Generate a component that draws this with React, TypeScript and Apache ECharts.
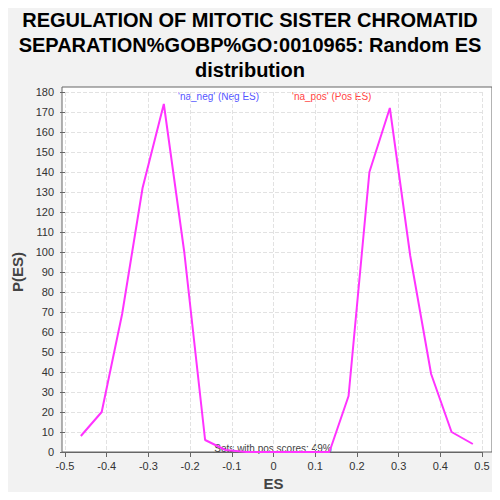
import * as echarts from 'echarts';
import React, { useEffect, useRef } from 'react';

const esValues = [
  -0.462, -0.412, -0.363, -0.314, -0.263, -0.214, -0.164, -0.115, -0.065, -0.015, 0.035, 0.085,
  0.134, 0.18, 0.23, 0.279, 0.328, 0.378, 0.427, 0.478,
];
const density = [8, 20, 69, 132, 174, 100, 6, 1, 0, 0, 0, 0, 0, 28, 140, 172, 98, 39, 10, 4];
const yTicks = [0, 180, 10];
const xTicks = [-0.5, 0.5, 0.1];

const App: React.FC = () => {
  const chartRef = useRef<HTMLDivElement>(null);

  useEffect(() => {
    if (!chartRef.current) return;
    const chart = echarts.init(chartRef.current, null, { renderer: 'svg' });
    chart.setOption({
      animation: false,
      backgroundColor: '#f2f2f2',
      title: {
        text: 'REGULATION OF MITOTIC SISTER CHROMATID\nSEPARATION%GOBP%GO:0010965: Random ES\ndistribution',
        left: 'center',
        top: 2,
        textStyle: { fontSize: 20, fontWeight: 'bold', color: '#000', lineHeight: 25, fontFamily: 'Liberation Sans' },
      },
      grid: { left: 65, right: 18, top: 92, bottom: 48 },
      xAxis: {
        type: 'value',
        min: xTicks[0],
        max: xTicks[1],
        interval: xTicks[2],
        name: 'ES',
        nameLocation: 'middle',
        nameGap: 24,
        nameTextStyle: { fontSize: 15, fontWeight: 'bold', color: '#444', fontFamily: 'Liberation Sans' },
        axisLine: { onZero: false, lineStyle: { color: '#666' } },
        axisTick: { lineStyle: { color: '#666' } },
        axisLabel: { color: '#333', fontSize: 11, fontFamily: 'Liberation Sans', formatter: (v: number) => String(Math.round(v * 10) / 10) },
        splitLine: { show: true, lineStyle: { type: 'dashed', color: '#e2e2e2' } },
      },
      yAxis: {
        type: 'value',
        min: yTicks[0],
        max: yTicks[1],
        interval: yTicks[2],
        name: 'P(ES)',
        nameLocation: 'middle',
        nameGap: 38,
        nameTextStyle: { fontSize: 15, fontWeight: 'bold', color: '#444', fontFamily: 'Liberation Sans' },
        axisLine: { show: false, onZero: false },
        axisTick: { show: true, lineStyle: { color: '#666' } },
        axisLabel: { color: '#333', fontSize: 11, fontFamily: 'Liberation Sans', margin: 11 },
        splitLine: { show: true, lineStyle: { type: 'dashed', color: '#e2e2e2' } },
      },
      graphic: [
        { type: 'rect', z: -10, shape: { x: 62, y: 87, width: 430, height: 365 }, style: { fill: '#fff', stroke: '#666', lineWidth: 1 } },
        { type: 'text', x: 178, y: 91, style: { text: "'na_neg' (Neg ES)", fill: '#5555ff', fontSize: 10, fontFamily: 'Liberation Sans' } },
        { type: 'text', x: 292, y: 91, style: { text: "'na_pos' (Pos ES)", fill: '#ff4444', fontSize: 10, fontFamily: 'Liberation Sans' } },
        { type: 'text', x: 273, y: 443, style: { text: 'Sets with pos scores: 49%', fill: '#444', fontSize: 10, align: 'center', fontFamily: 'Liberation Sans' } },
      ],
      series: [
        {
          type: 'line',
          data: esValues.map((x, i) => [x, density[i]]),
          showSymbol: false,
          lineStyle: { color: '#ff33ff', width: 2 },
        },
      ],
    });
    return () => chart.dispose();
  }, []);

  return <div ref={chartRef} style={{ width: 500, height: 500, margin: -8 }} />;
};

export default App;
